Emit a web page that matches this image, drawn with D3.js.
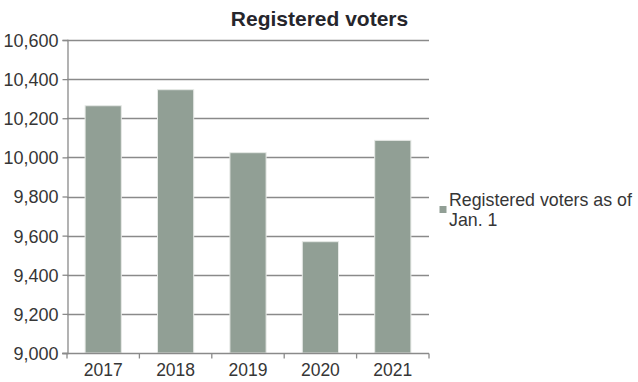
<!DOCTYPE html>
<html>
<head>
<meta charset="utf-8">
<script src="https://cdn.jsdelivr.net/npm/d3@7"></script>
<style>
  html, body { margin: 0; padding: 0; background: #fff; }
  svg { display: block; font-family: "Liberation Sans", Arial, sans-serif; }
</style>
</head>
<body>
<svg id="chart" width="638" height="382"></svg>
<script>
const title = "Registered voters";
const categories = ["2017", "2018", "2019", "2020", "2021"];
const values = [10264, 10346, 10024, 9569, 10087];
const yTicks = [9000, 9200, 9400, 9600, 9800, 10000, 10200, 10400, 10600];
const seriesName = ["Registered voters as of", "Jan. 1"];

const svg = d3.select("#chart");
const m = { left: 67, right: 429, top: 40, bottom: 353 };

const x = d3.scaleBand().domain(categories).range([m.left, m.right]).paddingInner(0.5).paddingOuter(0.25);
const y = d3.scaleLinear().domain([9000, 10600]).range([m.bottom, m.top]);

const gridColor = "#8a8a8a";
const textColor = "#363636";

// gridlines
svg.append("g").selectAll("line").data(yTicks.slice(1)).join("line")
  .attr("x1", m.left).attr("x2", m.right)
  .attr("y1", d => Math.round(y(d)) + 0.5).attr("y2", d => Math.round(y(d)) + 0.5)
  .attr("stroke", gridColor).attr("stroke-width", 1.3);

// bars
svg.append("g").selectAll("rect").data(values).join("rect")
  .attr("x", (d, i) => x(categories[i]))
  .attr("width", x.bandwidth())
  .attr("y", d => y(d))
  .attr("height", d => y(9000) - y(d))
  .attr("fill", "#919f95")
  .attr("stroke", "#e6e9e6").attr("stroke-width", 1);

// y axis
const yAxis = d3.axisLeft(y).tickValues(yTicks).tickSize(5).tickPadding(4)
  .tickFormat(d3.format(","));
const gy = svg.append("g").attr("transform", `translate(${m.left + 0.5},0)`).call(yAxis);
gy.select(".domain").attr("stroke", gridColor).attr("stroke-width", 1.3);
gy.selectAll(".tick line").attr("stroke", gridColor).attr("stroke-width", 1.3);
gy.selectAll(".tick text").attr("fill", textColor)
  .style("font-size", "18px").style("font-family", "Liberation Sans, Arial, sans-serif")
  .attr("dy", "0.36em");

// x axis with ticks at band boundaries
const gx = svg.append("g").attr("transform", `translate(0,${m.bottom + 0.5})`);
gx.append("line").attr("x1", m.left - 5).attr("x2", m.right).attr("stroke", gridColor).attr("stroke-width", 1.3);
const boundaries = d3.range(categories.length + 1).map(i => m.left + i * (m.right - m.left) / categories.length);
gx.selectAll("line.tk").data(boundaries).join("line").attr("class", "tk")
  .attr("x1", d => d).attr("x2", d => d).attr("y1", 0).attr("y2", 5)
  .attr("stroke", gridColor).attr("stroke-width", 1.3);
gx.selectAll("text").data(categories).join("text")
  .attr("x", d => x(d) + x.bandwidth() / 2)
  .attr("y", 22)
  .attr("text-anchor", "middle")
  .attr("fill", textColor)
  .style("font-size", "17.5px")
  .text(d => d);

// title
svg.append("text").attr("x", 319.5).attr("y", 26).attr("text-anchor", "middle")
  .attr("fill", "#26262c").style("font-size", "21px").style("font-weight", "bold")
  .text(title);

// legend
const lg = svg.append("g");
lg.append("rect").attr("x", 439.5).attr("y", 206).attr("width", 7).attr("height", 7).attr("fill", "#919f95");
lg.append("text").attr("x", 449).attr("fill", textColor).style("font-size", "17.8px")
  .selectAll("tspan").data(seriesName).join("tspan")
  .attr("x", 449).attr("y", (d, i) => 206 + i * 20).text(d => d);
</script>
</body>
</html>
